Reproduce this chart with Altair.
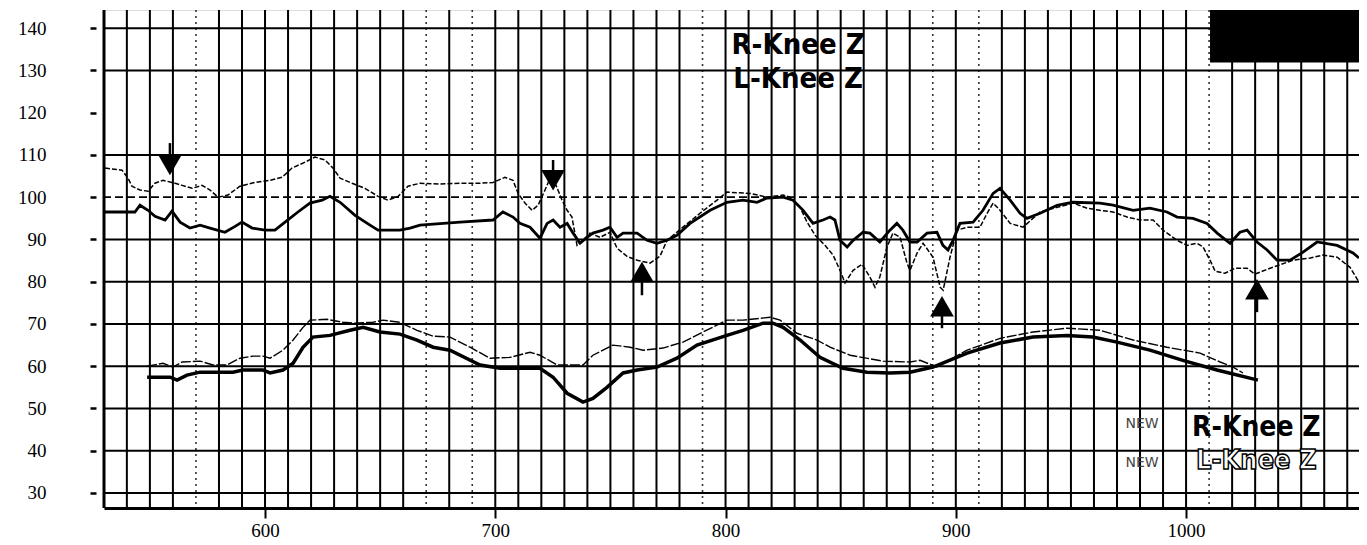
import altair as alt
import pandas as pd

# ---------------- data ----------------
# Upper pair: thin dashed trace
upper_thin_x = [530.5, 537.9, 540.5, 542.2, 545.7, 549.2, 552.2, 555.7, 559.6, 564.0, 568.3, 572.6,
                576.1, 579.6, 583.9, 589.1, 595.7, 602.2, 607.4, 611.7, 617.4, 621.7, 626.1, 629.5,
                632.6, 637.8, 643.4, 649.1, 653.4, 657.8, 662.1, 667.3, 676.0, 684.7, 693.4, 699.0,
                704.2, 707.7, 709.9, 712.9, 716.0, 718.6, 721.6, 723.8, 726.4, 729.0, 731.2, 733.3,
                735.5, 738.1, 741.1, 745.5, 749.8, 752.9, 757.2, 761.6, 767.2, 771.5, 774.6, 781.5,
                788.9, 796.3, 800.6, 810.6, 818.0, 825.0, 828.0, 832.4, 835.4, 838.9, 843.2, 846.7,
                849.7, 851.9, 855.4, 859.3, 862.7, 864.9, 867.0, 870.1, 872.7, 875.8, 878.8, 880.1,
                883.2, 885.8, 890.1, 893.2, 894.5, 897.5, 900.5, 904.9, 910.5, 913.6, 916.2, 919.2,
                923.6, 929.2, 936.6, 944.0, 950.9, 957.0, 962.6, 968.3, 974.4, 980.0, 985.7, 990.0,
                996.1, 1000.4, 1004.8, 1007.4, 1010.4, 1012.6, 1016.9, 1021.3, 1026.5, 1029.9, 1036.5,
                1046.5, 1053.9, 1059.5, 1065.6, 1071.2, 1075.1]
upper_thin_y = [106.9, 106.4, 104.5, 102.6, 101.7, 101.4, 103.3, 104.0, 103.5, 102.8, 102.1, 102.8,
                101.7, 100.0, 100.5, 102.6, 103.5, 104.0, 104.7, 106.9, 108.3, 109.5, 108.8, 106.9,
                104.5, 103.3, 102.1, 100.2, 99.3, 100.2, 102.6, 103.3, 103.1, 103.3, 103.3, 103.5,
                104.7, 104.0, 100.9, 98.6, 96.9, 98.1, 101.7, 104.5, 102.8, 99.3, 96.9, 95.3,
                88.6, 89.8, 91.5, 90.5, 91.7, 87.9, 86.0, 85.1, 84.4, 86.0, 89.8, 92.9,
                96.2, 99.3, 101.2, 100.9, 100.0, 100.5, 100.0, 97.6, 94.1, 91.0, 88.6, 86.3,
                82.7, 79.7, 82.7, 84.1, 81.1, 78.7, 81.1, 88.2, 91.5, 90.5, 84.4, 82.7,
                86.8, 89.1, 85.8, 78.7, 78.0, 85.8, 92.2, 92.9, 92.9, 96.2, 98.6, 96.9,
                93.8, 92.9, 96.5, 97.6, 98.6, 97.4, 96.9, 96.5, 95.3, 94.6, 94.6, 92.2,
                89.8, 88.6, 89.1, 88.2, 85.1, 82.5, 82.0, 83.2, 83.2, 81.8, 83.2,
                85.1, 85.6, 86.3, 85.8, 83.4, 79.9]

# Upper pair: thick solid trace
upper_thick_x = [530.5, 543.5, 545.7, 549.2, 552.2, 556.6, 559.6, 563.1, 567.4, 571.8, 576.1, 582.6,
                 587.0, 590.0, 594.4, 600.0, 604.3, 608.7, 614.3, 619.5, 624.8, 628.2, 632.6, 639.1,
                 645.6, 649.1, 658.6, 663.0, 667.3, 684.7, 699.0, 703.3, 707.7, 710.7, 715.1, 719.4,
                 722.5, 725.1, 728.1, 731.2, 733.8, 736.8, 739.8, 742.4, 746.8, 749.8, 752.9, 755.5,
                 761.6, 765.9, 770.2, 774.6, 778.9, 784.6, 793.3, 800.6, 807.6, 813.7, 818.0, 825.0,
                 829.3, 833.7, 838.0, 842.3, 845.4, 847.5, 849.7, 852.8, 855.4, 859.7, 862.7, 867.0,
                 871.4, 874.4, 877.0, 880.1, 883.2, 887.5, 891.8, 894.4, 896.6, 898.8, 901.8, 907.5,
                 911.8, 916.2, 919.2, 923.6, 927.9, 930.9, 936.6, 944.0, 950.9, 962.6, 968.3, 977.0,
                 984.3, 991.7, 996.1, 1003.0, 1009.1, 1013.5, 1019.1, 1023.4, 1026.5, 1030.8, 1035.2,
                 1039.5, 1045.2, 1050.8, 1056.9, 1065.6, 1072.5, 1075.1]
upper_thick_y = [96.5, 96.5, 98.1, 96.9, 95.5, 94.6, 96.7, 94.1, 92.7, 93.4, 92.7, 91.7,
                 93.1, 94.1, 92.7, 92.2, 92.2, 94.1, 96.5, 98.6, 99.3, 100.2, 98.8, 95.7,
                 93.4, 92.2, 92.2, 92.7, 93.4, 94.1, 94.6, 96.5, 95.3, 93.8, 92.9, 90.3,
                 93.8, 94.6, 92.9, 93.8, 91.5, 89.1, 90.5, 91.5, 92.2, 92.9, 90.5, 91.5,
                 91.5, 89.8, 89.1, 89.8, 91.0, 93.8, 96.9, 98.8, 99.3, 98.8, 99.8, 100.0,
                 99.3, 96.9, 93.8, 94.6, 95.3, 94.6, 89.8, 88.2, 89.8, 91.7, 91.5, 89.4,
                 92.2, 93.8, 92.2, 89.4, 89.4, 91.5, 91.7, 88.6, 87.5, 89.8, 93.8, 94.1,
                 96.9, 100.9, 102.1, 99.3, 96.2, 95.0, 96.2, 98.1, 98.8, 98.6, 98.1, 96.9,
                 97.4, 96.5, 95.3, 95.0, 93.8, 91.5, 89.1, 91.7, 92.2, 89.4, 87.5,
                 85.1, 85.1, 87.0, 89.4, 88.6, 86.8, 85.6]

# Lower pair: thin trace
lower_thin_x = [548.8, 555.7, 560.0, 564.0, 571.8, 577.4, 583.5, 589.1, 594.8, 599.1, 602.2, 607.8,
                612.2, 616.5, 619.5, 626.9, 633.9, 638.2, 646.9, 651.2, 658.6, 666.0, 673.0, 680.3,
                689.0, 697.7, 706.4, 715.1, 719.4, 726.8, 738.1, 742.4, 751.1, 758.5, 764.2, 772.8,
                781.5, 790.2, 800.6, 807.6, 819.3, 823.7, 831.0, 839.7, 845.4, 854.1, 868.4, 880.1,
                884.5, 891.8, 904.9, 919.2, 933.5, 948.3, 962.6, 977.0, 991.7, 1006.1, 1014.8,
                1020.4, 1024.7]
lower_thin_y = [60.0, 60.7, 59.8, 61.0, 61.2, 60.3, 60.3, 61.9, 62.4, 62.4, 61.9, 63.8,
                66.2, 69.2, 70.9, 71.1, 70.4, 70.2, 70.4, 70.9, 70.4, 68.5, 67.1, 66.9,
                64.5, 61.9, 62.1, 63.3, 62.6, 60.3, 60.3, 62.6, 65.0, 64.5, 63.8, 64.3,
                65.7, 68.1, 70.9, 70.9, 71.6, 70.9, 67.8, 66.2, 64.5, 62.6, 61.2, 61.0,
                61.4, 59.8, 63.8, 66.6, 68.1, 69.0, 68.5, 66.2, 64.5, 63.1, 61.0,
                59.8, 58.4]

# Lower pair: thick trace
lower_thick_x = [548.8, 558.8, 561.8, 566.1, 571.8, 586.1, 590.4, 599.1, 602.2, 607.8, 612.2, 616.5,
                 620.8, 628.2, 636.9, 642.6, 649.9, 658.6, 666.0, 673.0, 680.3, 693.4, 702.1, 719.4,
                 725.1, 731.2, 738.1, 742.4, 748.5, 755.5, 761.6, 770.2, 778.9, 787.6, 800.6, 807.6,
                 816.3, 820.6, 825.0, 832.4, 841.0, 851.0, 861.4, 871.4, 880.1, 890.1, 904.9, 919.2,
                 933.5, 948.3, 959.5, 970.0, 984.3, 998.6, 1013.4, 1031.2]
lower_thick_y = [57.4, 57.4, 56.7, 57.9, 58.6, 58.6, 59.1, 59.1, 58.4, 59.1, 60.7, 64.5,
                 66.9, 67.3, 68.5, 69.2, 68.1, 67.6, 66.2, 64.5, 63.8, 60.3, 59.5, 59.5,
                 57.4, 53.6, 51.5, 52.4, 55.0, 58.4, 59.1, 59.8, 61.9, 65.0, 67.3, 68.5,
                 70.2, 70.2, 69.2, 66.2, 62.1, 59.5, 58.6, 58.4, 58.6, 59.8, 63.1, 65.5,
                 66.9, 67.3, 66.9, 65.7, 63.8, 61.4, 59.1, 56.7]

# Event arrows
arrow_x = [558.7, 725.1, 763.7, 894.0, 1030.8]
arrow_head_y = [107.6, 104.0, 82.3, 74.2, 78.2]
arrow_tail_y = [112.8, 108.8, 76.8, 69.0, 72.8]
arrow_shape = ["triangle-down", "triangle-down", "triangle-up", "triangle-up", "triangle-up"]

# Grid and ticks
x_ticks = [600, 700, 800, 900, 1000]
y_ticks = [30, 40, 50, 60, 70, 80, 90, 100, 110, 120, 130, 140]
h_grid_solid = [30, 40, 50, 60, 70, 80, 90, 110, 130, 140]
h_grid_dashed = [100]
v_grid_dotted = [570, 670, 690, 790, 890, 910, 1010]
v_grid_solid = [v for v in range(540, 1080, 10) if v not in v_grid_dotted]
frame_left = [530.07]

# Text labels
title_texts = ["R-Knee Z", "L-Knee Z"]
title_x = [831.5, 831.5]
title_y = [135.9, 127.9]
legend_texts = ["R-Knee Z", "L-Knee Z"]
legend_x = [1030.5, 1030.5]
legend_y = [45.5, 37.6]
new_texts = ["NEW", "NEW"]
new_x = [980.9, 980.9]
new_y = [46.3, 37.1]

# Black box at top right
box_x = [1010.4]
box_x2 = [1075.1]
box_y = [131.9]
box_y2 = [144.3]

# ---------------- chart ----------------
X_DOMAIN = [530.07, 1075.1]
Y_DOMAIN = [26.45, 144.3]
xs = alt.Scale(domain=X_DOMAIN, nice=False, zero=False)
ys = alt.Scale(domain=Y_DOMAIN, nice=False, zero=False)

serif = "Liberation Serif"
cond = "Liberation Sans Narrow, DejaVu Sans Condensed, Arial Narrow, sans-serif"

X_AXIS = alt.Axis(
    values=x_ticks, title=None, grid=False, domain=True, domainColor="black",
    domainWidth=3, ticks=True, tickSize=10, tickWidth=2, tickColor="black",
    labelFont=serif, labelFontSize=19, labelColor="black", labelPadding=3,
    format="d")
Y_AXIS = alt.Axis(
    values=y_ticks, title=None, grid=False, domain=False, ticks=True,
    tickSize=6, tickWidth=2.5, tickColor="black", offset=8,
    labelFont=serif, labelFontSize=19, labelColor="black", labelPadding=44,
    format="d")


def line_df(xv, yv):
    return pd.DataFrame({"x": xv, "y": yv, "i": list(range(len(xv)))})


def xenc(field="x"):
    return alt.X(f"{field}:Q", scale=xs, axis=X_AXIS)


def yenc(field="y"):
    return alt.Y(f"{field}:Q", scale=ys, axis=Y_AXIS)


axes = alt.Chart(pd.DataFrame({"x": [600], "y": [60]})).mark_point(opacity=0).encode(
    x=xenc(), y=yenc())

vsolid = alt.Chart(pd.DataFrame({"x": v_grid_solid})).mark_rule(
    color="black", strokeWidth=2).encode(x=xenc())
vdot = alt.Chart(pd.DataFrame({"x": v_grid_dotted})).mark_rule(
    color="#333", strokeWidth=1.6, strokeDash=[2, 4]).encode(x=xenc())
vframe = alt.Chart(pd.DataFrame({"x": frame_left})).mark_rule(
    color="black", strokeWidth=3).encode(x=xenc())
hsolid = alt.Chart(pd.DataFrame({"y": h_grid_solid})).mark_rule(
    color="black", strokeWidth=2).encode(y=yenc())
hdash = alt.Chart(pd.DataFrame({"y": h_grid_dashed})).mark_rule(
    color="black", strokeWidth=1.8, strokeDash=[8, 4]).encode(y=yenc())

box = alt.Chart(pd.DataFrame({"x": box_x, "x2": box_x2, "y": box_y, "y2": box_y2})).mark_rect(
    color="black").encode(x=xenc(), x2="x2:Q", y=yenc(), y2="y2:Q")

ut = alt.Chart(line_df(upper_thin_x, upper_thin_y)).mark_line(
    color="black", strokeWidth=1.5, strokeDash=[5, 2]).encode(
    x=xenc(), y=yenc(), order="i:Q")
uk = alt.Chart(line_df(upper_thick_x, upper_thick_y)).mark_line(
    color="black", strokeWidth=2.8).encode(x=xenc(), y=yenc(), order="i:Q")
lt = alt.Chart(line_df(lower_thin_x, lower_thin_y)).mark_line(
    color="black", strokeWidth=1.4, strokeDash=[10, 2]).encode(
    x=xenc(), y=yenc(), order="i:Q")
lk = alt.Chart(line_df(lower_thick_x, lower_thick_y)).mark_line(
    color="black", strokeWidth=3.5).encode(x=xenc(), y=yenc(), order="i:Q")

arrows_df = pd.DataFrame({"x": arrow_x, "y": arrow_head_y, "y2": arrow_tail_y,
                          "shape": arrow_shape})
stems = alt.Chart(arrows_df).mark_rule(color="black", strokeWidth=2.5).encode(
    x=xenc(), y=yenc(), y2="y2:Q")
heads = alt.Chart(arrows_df).mark_point(filled=True, color="black", opacity=1, size=560).encode(
    x=xenc(), y=yenc(),
    shape=alt.Shape("shape:N", scale=None, legend=None))

titles = alt.Chart(pd.DataFrame({"t": title_texts, "x": title_x, "y": title_y})).mark_text(
    font=cond, fontSize=29, fontWeight="bold", color="black", baseline="middle",
    align="center").encode(x=xenc(), y=yenc(), text="t:N")

leg1 = alt.Chart(pd.DataFrame({"t": legend_texts[:1], "x": legend_x[:1], "y": legend_y[:1]})).mark_text(
    font=cond, fontSize=28, fontWeight="bold", color="black", baseline="middle",
    align="center").encode(x=xenc(), y=yenc(), text="t:N")
leg2 = alt.Chart(pd.DataFrame({"t": legend_texts[1:], "x": legend_x[1:], "y": legend_y[1:]})).mark_text(
    font=cond, fontSize=27, fontWeight="bold", fill="white", stroke="black", strokeWidth=1.4,
    baseline="middle", align="center").encode(x=xenc(), y=yenc(), text="t:N")
news = alt.Chart(pd.DataFrame({"t": new_texts, "x": new_x, "y": new_y})).mark_text(
    font="DejaVu Sans", fontSize=14, color="#444", baseline="middle",
    align="center").encode(x=xenc(), y=yenc(), text="t:N")

chart = alt.layer(
    axes, vsolid, vdot, hsolid, hdash, vframe, box,
    ut, uk, lt, lk, stems, heads, titles, leg1, leg2, news
).properties(
    width=1255, height=498,
    autosize=alt.AutoSizeParams(type="none"),
    padding={"left": 96, "top": 2, "right": 0, "bottom": 37},
).configure_view(stroke=None).configure(background="white").configure_axis(
    labelFont=serif, labelFontSize=19, labelColor="black"
)

chart.save("out.html", embed_options={"renderer": "svg", "actions": False})
